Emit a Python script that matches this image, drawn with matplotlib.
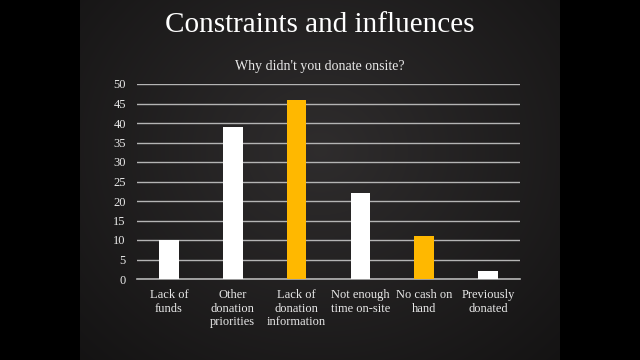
import numpy as np
import matplotlib
matplotlib.use("Agg")
import matplotlib.pyplot as plt

categories = ["Lack of\nfunds", "Other\ndonation\npriorities", "Lack of\ndonation\ninformation",
              "Not enough\ntime on-site", "No cash on\nhand", "Previously\ndonated"]
counts = [10, 39, 46, 22, 11, 2]
highlight = [False, False, True, False, True, False]
yticks = list(range(0, 55, 5))

WHITE = "#ffffff"
GOLD = "#ffb800"
GRID = "#b4b4b4"
TEXT = "#e8e8e8"

plt.rcParams['font.family'] = ['Liberation Serif', 'DejaVu Serif']

fig = plt.figure(figsize=(6.4, 3.6), dpi=100)
fig.patch.set_facecolor("black")

# slide background with soft radial vignette
bg = fig.add_axes([80 / 640, 0, 480 / 640, 1])
yy, xx = np.mgrid[0:360, 0:480]
r = np.sqrt(((xx - 240) / 300.0) ** 2 + ((yy - 150) / 260.0) ** 2)
shade = np.clip(0.18 - 0.09 * r, 0.07, 0.18)
img = np.dstack([shade * 1.02, shade * 0.97, shade * 0.98])
bg.imshow(np.clip(img, 0, 1), aspect="auto", extent=[0, 1, 0, 1])
bg.axis("off")

ax = fig.add_axes([137 / 640, (360 - 279) / 360, (520 - 137) / 640, (279 - 84) / 360])
ax.set_facecolor("none")
x = np.arange(len(categories))
colors = [GOLD if h else WHITE for h in highlight]
ax.bar(x, counts, width=0.31, color=colors, zorder=3)
ax.set_xlim(-0.5, len(categories) - 0.5)
ax.set_ylim(0, 50)
ax.set_yticks(yticks)
ax.yaxis.grid(True, color=GRID, linewidth=1.0, zorder=1)
ax.set_axisbelow(True)
for s in ["top", "right", "left"]:
    ax.spines[s].set_visible(False)
ax.spines["bottom"].set_color(GRID)
ax.spines["bottom"].set_linewidth(1.2)
ax.tick_params(axis="y", length=0, colors=TEXT, labelsize=9, pad=8)
ax.tick_params(axis="x", length=0, colors=TEXT, labelsize=9, pad=7)
ax.set_xticks(x)
ax.set_xticklabels(categories, linespacing=1.2)

fig.text(0.5, 0.93, "Constraints and influences", ha="center", va="center",
         color="white", fontsize=21)
fig.text(0.5, 0.815, "Why didn't you donate onsite?", ha="center", va="center",
         color=TEXT, fontsize=10)

fig.savefig("out.png", dpi=100, facecolor=fig.get_facecolor())
